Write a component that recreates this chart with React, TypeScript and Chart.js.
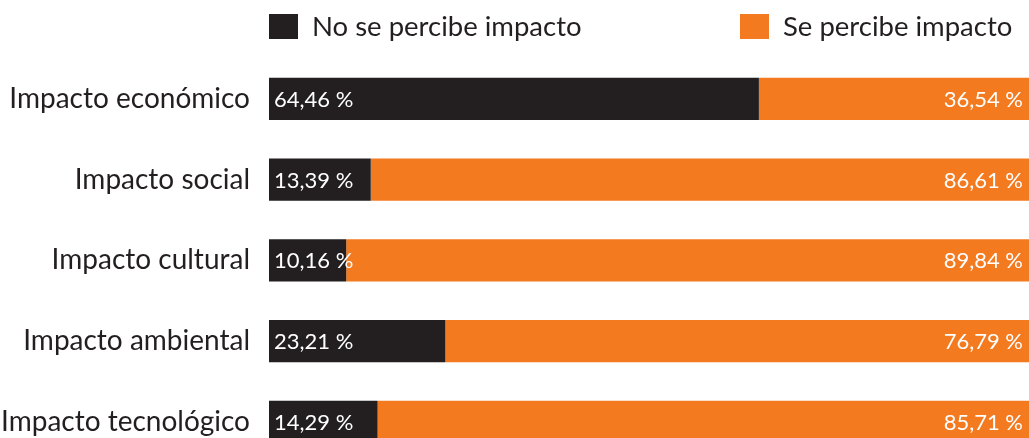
import React, { useEffect, useRef } from "react";
import { Chart, registerables } from "chart.js";

Chart.register(...registerables);

const categories = [
  "Impacto económico",
  "Impacto social",
  "Impacto cultural",
  "Impacto ambiental",
  "Impacto tecnológico",
];
const seriesNames = ["No se percibe impacto", "Se percibe impacto"];
const noImpacto = [64.46, 13.39, 10.16, 23.21, 14.29];
const siImpacto = [36.54, 86.61, 89.84, 76.79, 85.71];
const colors = ["#231f20", "#f47a20"];

const FONT = "Lato, 'Open Sans', sans-serif";

const fmt = (v: number) => v.toFixed(2).replace(".", ",") + " %";

const labelPlugin = {
  id: "valueLabels",
  afterDatasetsDraw(chart: any) {
    const ctx = chart.ctx;
    const area = chart.chartArea;
    ctx.save();
    ctx.font = `22px ${FONT}`;
    ctx.fillStyle = "#ffffff";
    ctx.textBaseline = "middle";
    chart.data.datasets.forEach((ds: any, di: number) => {
      const meta = chart.getDatasetMeta(di);
      meta.data.forEach((bar: any, i: number) => {
        const v = ds.data[i];
        if (di === 0) {
          ctx.textAlign = "left";
          ctx.fillText(fmt(v), bar.base + 5, bar.y + 1);
        } else {
          ctx.textAlign = "right";
          const end = Math.min(bar.x, area.right);
          ctx.fillText(fmt(v), end - 6, bar.y + 1);
        }
      });
    });
    ctx.restore();
  },
};

const legendPlugin = {
  id: "customLegend",
  afterDraw(chart: any) {
    const ctx = chart.ctx;
    const xs = [269, 740];
    ctx.save();
    ctx.font = `27.5px ${FONT}`;
    ctx.textBaseline = "middle";
    ctx.textAlign = "left";
    chart.data.datasets.forEach((ds: any, i: number) => {
      ctx.fillStyle = ds.backgroundColor;
      ctx.fillRect(xs[i], 14, 29, 25);
      ctx.fillStyle = "#231f20";
      ctx.fillText(ds.label, xs[i] + 43, 27);
    });
    ctx.restore();
  },
};

export default function App() {
  const ref = useRef<HTMLCanvasElement>(null);
  useEffect(() => {
    if (!ref.current) return;
    const chart = new Chart(ref.current, {
      type: "bar",
      data: {
        labels: categories,
        datasets: [
          { label: seriesNames[0], data: noImpacto, backgroundColor: colors[0] },
          { label: seriesNames[1], data: siImpacto, backgroundColor: colors[1] },
        ],
      },
      options: {
        indexAxis: "y",
        animation: false,
        responsive: false,
        maintainAspectRatio: false,
        layout: { padding: { top: 58.5, right: 0, bottom: 0, left: 0 } },
        datasets: {
          bar: { barPercentage: 0.522, categoryPercentage: 1, borderWidth: 0 },
        },
        plugins: {
          legend: { display: false },
          tooltip: { enabled: false },
        },
        scales: {
          x: {
            stacked: true,
            min: 0,
            max: 100,
            display: false,
          },
          y: {
            stacked: true,
            grid: { display: false, drawTicks: false },
            border: { display: false },
            ticks: {
              color: "#231f20",
              font: { family: FONT, size: 28 },
              padding: 19,
            },
            afterFit(scale: any) {
              scale.width = 269;
            },
          },
        },
      },
      plugins: [labelPlugin, legendPlugin],
    });
    return () => chart.destroy();
  }, []);
  return (
    <div
      style={{
        position: "fixed",
        left: 0,
        top: 0,
        width: 1029,
        height: 438,
        overflow: "hidden",
        background: "#ffffff",
      }}
    >
      <canvas ref={ref} width={1029} height={498} style={{ display: "block" }} />
    </div>
  );
}
